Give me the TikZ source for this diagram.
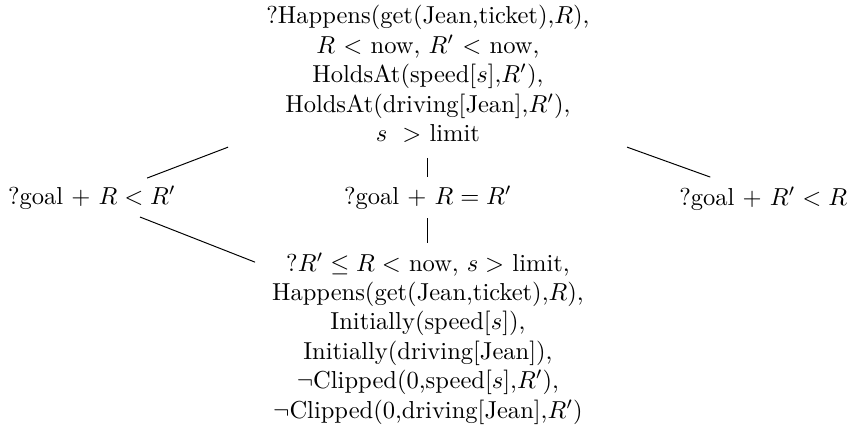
\documentclass[tikz,border=0pt]{standalone}
\begin{document}
\begin{tikzpicture}[x=1pt,y=-1pt,
  lbl/.style={align=center, inner sep=0pt},
  edge/.style={line width=0.4pt}]
\useasboundingbox (0,0) rectangle (347,176.2);
\node[lbl] (top) at (174.5,30.2) {?Happens(get(Jean,ticket),$R$),\\
$R$ $<$ now, $R'$ $<$ now,\\
HoldsAt(speed[$s$],$R'$),\\
HoldsAt(driving[Jean],$R'$),\\
$s\ >$ limit};
\node[lbl] (left) at (37.5,80.8) {?goal $+$ $R<R'$};
\node[lbl] (mid) at (174.5,80.8) {?goal $+$ $R=R'$};
\node[lbl] (right) at (311.2,81.2) {?goal $+$ $R'<R$};
\node[lbl] (bot) at (174.5,138) {?$R'\leq R<$ now, $s>$ limit,\\
Happens(get(Jean,ticket),$R$),\\
Initially(speed[$s$]),\\
Initially(driving[Jean]),\\
$\neg$Clipped(0,speed[$s$],$R'$),\\
$\neg$Clipped(0,driving[Jean],$R'$)};
\coordinate (lu1) at (60.0,72.6);
\coordinate (lu2) at (93.0,60.0);
\coordinate (ll1) at (57.1,88.5);
\coordinate (ll2) at (104.0,106.9);
\coordinate (r1) at (255.7,60.0);
\coordinate (r2) at (289.6,72.2);
\coordinate (mt1) at (174.5,64.4);
\coordinate (mt2) at (174.5,72.2);
\coordinate (mb1) at (174.5,88.9);
\coordinate (mb2) at (174.5,99.1);
\draw[edge] (lu1) -- (lu2);
\draw[edge] (ll1) -- (ll2);
\draw[edge] (r1) -- (r2);
\draw[edge] (mt1) -- (mt2);
\draw[edge] (mb1) -- (mb2);
\end{tikzpicture}
\end{document}
